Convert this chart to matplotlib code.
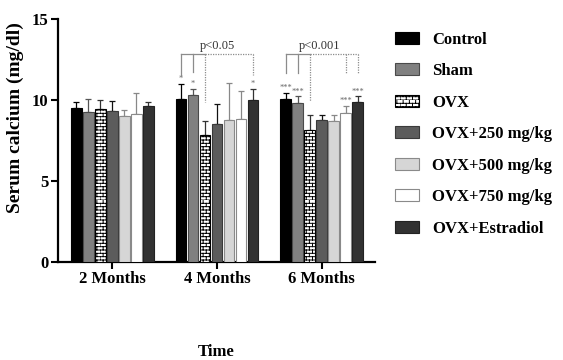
import warnings
import numpy as np
import matplotlib
matplotlib.use('Agg')
import matplotlib.pyplot as plt
import matplotlib.hatch as mhatch
from matplotlib.path import Path

warnings.filterwarnings('ignore')

# Dados (cálcio sérico, mg/dl)
grupos = ['2 Months', '4 Months', '6 Months']
series = ['Control', 'Sham', 'OVX', 'OVX+250 mg/kg', 'OVX+500 mg/kg',
          'OVX+750 mg/kg', 'OVX+Estradiol']

control = [9.50, 10.05, 10.05]
sham = [9.25, 10.28, 9.84]
ovx = [9.47, 7.82, 8.17]
ovx250 = [9.33, 8.54, 8.74]
ovx500 = [9.03, 8.74, 8.72]
ovx750 = [9.16, 8.85, 9.20]
estradiol = [9.60, 9.98, 9.88]

err_control = [0.40, 0.95, 0.38]
err_sham = [0.82, 0.40, 0.39]
err_ovx = [0.52, 0.86, 0.92]
err_ovx250 = [0.60, 1.22, 0.36]
err_ovx500 = [0.33, 2.28, 0.33]
err_ovx750 = [1.28, 1.68, 0.42]
err_estradiol = [0.25, 0.72, 0.34]

# marcas de significância (texto por série, por grupo)
sig_control = ['', '*', '***']
sig_sham = ['', '*', '***']
sig_ovx750 = ['', '', '***']
sig_estradiol = ['', '*', '***']

p_textos = ['', 'p<0.05', 'p<0.001']


class BrickHatch(mhatch.HatchPatternBase):
    """Hachura em forma de tijolos (caractere 'b')."""
    def __init__(self, hatch, density):
        self.rows = int(hatch.count('b') * density)
        self.cols = 16
        self.num_vertices = self.rows * 2 * (1 + self.cols)

    def set_vertices_and_codes(self, vertices, codes):
        step = 1.0 / self.rows
        k = 0
        for r in range(self.rows):
            y = r * step
            vertices[k] = (0.0, y)
            vertices[k + 1] = (1.0, y)
            codes[k] = Path.MOVETO
            codes[k + 1] = Path.LINETO
            k += 2
            off = 0.5 / self.cols if r % 2 else 0.0
            for c in range(self.cols):
                x = c / self.cols + off
                vertices[k] = (x, y)
                vertices[k + 1] = (x, y + step)
                codes[k] = Path.MOVETO
                codes[k + 1] = Path.LINETO
                k += 2


mhatch._hatch_types.append(BrickHatch)

plt.rcParams['font.family'] = ['Liberation Serif', 'DejaVu Serif']
plt.rcParams['hatch.linewidth'] = 0.7

valores = [control, sham, ovx, ovx250, ovx500, ovx750, estradiol]
erros = [err_control, err_sham, err_ovx, err_ovx250, err_ovx500,
         err_ovx750, err_estradiol]
cores = ['#000000', '#808080', '#ffffff', '#5c5c5c', '#d6d6d6', '#ffffff', '#323232']
bordas = ['#000000', '#4a4a4a', '#000000', '#3a3a3a', '#8a8a8a', '#8a8a8a', '#222222']
cores_erro = ['#000000', '#555555', '#333333', '#111111', '#888888', '#888888', '#333333']
hachuras = [None, None, 'bbbbb', None, None, None, None]

fig, ax = plt.subplots(figsize=(5.63, 3.6), dpi=100)
fig.subplots_adjust(left=0.103, right=0.666, bottom=0.273, top=0.947)

x = np.arange(len(grupos))
slot = 0.1146
largura = 0.104

for i, nome in enumerate(series):
    pos = x + (i - 3) * slot
    ax.bar(pos, valores[i], largura, color=cores[i], edgecolor=bordas[i],
           linewidth=0.8, hatch=hachuras[i], label=nome, zorder=3,
           yerr=[np.zeros(len(grupos)), erros[i]],
           error_kw=dict(ecolor=cores_erro[i], elinewidth=0.9, capsize=2.5,
                         capthick=0.9, zorder=2))

# estrelas de significância
for i, marcas in [(0, sig_control), (1, sig_sham), (5, sig_ovx750), (6, sig_estradiol)]:
    for g, m in enumerate(marcas):
        if m:
            topo = valores[i][g] + erros[i][g]
            ax.text(x[g] + (i - 3) * slot, topo + 0.05, m, ha='center', va='bottom',
                    fontsize=6, color='#666666')

# colchetes de comparação
cinza = '#8c8c8c'
y_barra = 12.83
quedas = {1: {'solid': [(0, 11.57), (1, 11.74)], 'dotted': [(2, 9.86), (6, 11.57)]},
          2: {'solid': [(0, 11.68), (1, 11.68)], 'dotted': [(2, 9.92), (5, 11.6), (6, 11.6)]}}
for g, d in quedas.items():
    xc = x[g] + (0 - 3) * slot
    xo = x[g] + (2 - 3) * slot
    xe = x[g] + (6 - 3) * slot
    ax.plot([xc, xo], [y_barra, y_barra], color=cinza, lw=0.9, zorder=4)
    ax.plot([xo, xe], [y_barra, y_barra], color=cinza, lw=0.9, ls=(0, (1, 1)), zorder=4)
    for i, yb in d['solid']:
        xi = x[g] + (i - 3) * slot
        ax.plot([xi, xi], [y_barra, yb], color=cinza, lw=0.9, zorder=4)
    for i, yb in d['dotted']:
        xi = x[g] + (i - 3) * slot
        ax.plot([xi, xi], [y_barra, yb], color=cinza, lw=0.9, ls=(0, (1, 1)), zorder=4)
    ax.text(x[g] - 0.02 * (g - 1), y_barra + 0.15, p_textos[g], ha='center', va='bottom',
            fontsize=9, color='#333333')

ax.set_xlim(-0.52, 2.51)
ax.set_ylim(0, 15)
ax.set_yticks([0, 5, 10, 15])
ax.set_xticks(x)
ax.set_xticklabels(grupos, fontsize=12, fontweight='bold')
for lbl in ax.get_yticklabels():
    lbl.set_fontsize(12)
    lbl.set_fontweight('bold')
ax.tick_params(axis='both', direction='out', length=5, width=1.5, pad=2)

for lado in ['top', 'right']:
    ax.spines[lado].set_visible(False)
for lado in ['left', 'bottom']:
    ax.spines[lado].set_linewidth(1.6)

ax.set_ylabel('Serum calcium (mg/dl)', fontsize=14, fontweight='bold')
ax.yaxis.set_label_coords(-0.108, 0.595)
ax.set_xlabel('Time', fontsize=12, fontweight='bold')
ax.xaxis.label.set_va('center')
ax.xaxis.set_label_coords(0.5, -0.372)

ax.legend(loc='upper left', bbox_to_anchor=(0.689, 0.931), bbox_transform=fig.transFigure,
          frameon=False, prop=dict(size=12, weight='bold'), handlelength=1.45,
          handleheight=0.7, handletextpad=0.8, labelspacing=0.93, borderaxespad=0)

fig.savefig('out.png', dpi=100)
